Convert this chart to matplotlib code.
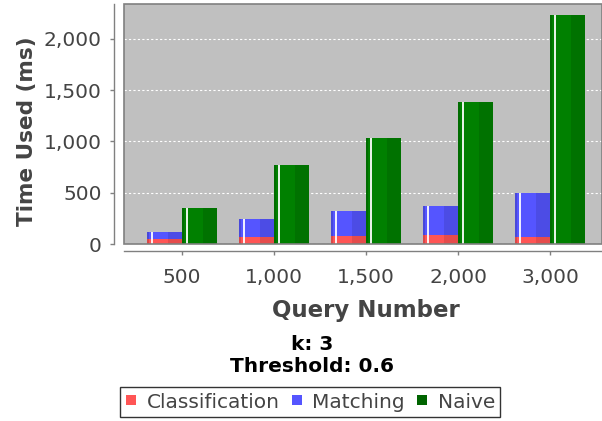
import numpy as np
import matplotlib.pyplot as plt
from matplotlib.patches import Rectangle
from matplotlib.lines import Line2D
from matplotlib.ticker import FuncFormatter

# values
queries = ['500', '1,000', '1,500', '2,000', '3,000']
classification = [46, 65, 78, 85, 65]
matching = [74, 175, 244, 282, 435]
naive = [355, 770, 1036, 1387, 2232]

red = '#FF5555'
blue = '#5555FF'
green = '#008000'
text_grey = '#444444'
W, H = 602, 421


def bar_with_shine(ax, x, heights, bottoms, color, width):
    # plain bar, then the white stripe and a darker right side like the java chart
    ax.bar(x, heights, width, bottom=bottoms, color=color, align='edge',
           linewidth=0, zorder=2)
    ax.bar(x + width * 0.6, heights, width * 0.4, bottom=bottoms, color='black',
           alpha=0.10, align='edge', linewidth=0, zorder=3)
    ax.bar(x, heights, width * 0.06, bottom=bottoms, color='black',
           alpha=0.15, align='edge', linewidth=0, zorder=3)
    ax.bar(x + width * 0.12, heights, width * 0.05, bottom=bottoms, color='white',
           alpha=0.9, align='edge', linewidth=0, zorder=3)


fig = plt.figure(figsize=(W / 100, H / 100), dpi=100)
fig.patch.set_facecolor('white')

# plot area in pixels: left 124, top 4, bottom 244, right runs off the picture
ax = fig.add_axes([124 / W, (H - 244) / H, (W - 124) / W, 240 / H])
ax.set_facecolor('#C0C0C0')

x = np.arange(len(queries))
bw = 0.38
bar_with_shine(ax, x - bw, classification, 0, red, bw)
bar_with_shine(ax, x - bw, matching, classification, blue, bw)
bar_with_shine(ax, x, naive, 0, green, bw)

ax.set_xlim(-0.63, 4.565)
ax.set_ylim(0, 2340)
ax.set_yticks([0, 500, 1000, 1500, 2000])
ax.yaxis.set_major_formatter(FuncFormatter(lambda v, p: f'{int(v):,}'))
ax.set_xticks(x)
ax.set_xticklabels(queries)

ax.grid(axis='y', color='white', linestyle=(0, (2, 2)), linewidth=0.8, zorder=1)
ax.set_axisbelow(True)

# frame of the plot area
ax.add_patch(Rectangle((0, 0), 1, 1, transform=ax.transAxes, fill=False,
                       edgecolor='#808080', linewidth=1.2, zorder=5, clip_on=False))

for s in ['top', 'right']:
    ax.spines[s].set_visible(False)
ax.spines['left'].set_position(('outward', 7))
ax.spines['bottom'].set_position(('outward', 5))
for s in ['left', 'bottom']:
    ax.spines[s].set_color('#808080')
    ax.spines[s].set_linewidth(1.0)

ax.tick_params(axis='both', colors='#808080', labelcolor=text_grey,
               labelsize=14.5, length=3, width=1)
ax.tick_params(axis='y', pad=6)
ax.tick_params(axis='x', pad=9)

fig.text(27 / W, 1 - 131 / H, 'Time Used (ms)', rotation=90, ha='center',
         va='center', fontsize=15.5, fontweight='bold', color=text_grey)
fig.text(366 / W, 1 - 310 / H, 'Query Number', ha='center', va='center',
         fontsize=16.5, fontweight='bold', color=text_grey)
fig.text(312 / W, 1 - 345 / H, 'k: 3', ha='center', va='center',
         fontsize=14.5, fontweight='bold', color='black')
fig.text(312 / W, 1 - 367 / H, 'Threshold: 0.6', ha='center', va='center',
         fontsize=14.5, fontweight='bold', color='black')

handles = [Line2D([], [], marker='s', linestyle='none', markersize=6.5,
                  markerfacecolor=c, markeredgewidth=0)
           for c in [red, blue, '#006400']]
leg = fig.legend(handles, ['Classification', 'Matching', 'Naive'],
                 loc='center', bbox_to_anchor=(310 / W, 1 - 402 / H), ncol=3,
                 fontsize=14.5, frameon=True, fancybox=False, handlelength=0.6,
                 handletextpad=0.47, columnspacing=0.55, borderpad=0.25,
                 borderaxespad=0)
leg.get_frame().set_edgecolor('black')
leg.get_frame().set_linewidth(1.0)
for t in leg.get_texts():
    t.set_color(text_grey)

fig.savefig('out.png', dpi=100)
